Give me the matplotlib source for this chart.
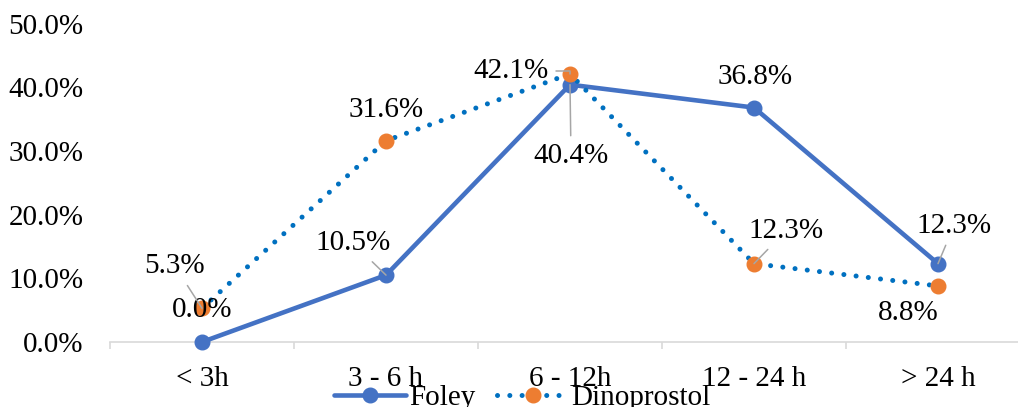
import matplotlib
matplotlib.use("Agg")
import matplotlib.pyplot as plt
from matplotlib.ticker import FixedLocator, FuncFormatter

plt.rcParams["font.family"] = ["Liberation Serif", "DejaVu Serif"]

categories = ["< 3h", "3 - 6 h", "6 - 12h", "12 - 24 h", "> 24 h"]
foley = [0.0, 10.5, 40.4, 36.8, 12.3]
dinoprostol = [5.3, 31.6, 42.1, 12.3, 8.8]
yticks = [0, 10, 20, 30, 40, 50]

# label offsets (pixels from the point to the label's centre/baseline) and leader flags
foley_offsets = [(0, 25), (-33, 25), (1, -78), (1, 24), (16, 31)]
foley_leaders = [False, True, True, False, True]
dino_offsets = [(-27, 35), (0, 24), (-59, -4), (32, 26), (-30, -34)]
dino_leaders = [True, False, True, True, False]

FOLEY_C = "#4472C4"
DINO_LINE_C = "#0070C0"
DINO_MARK_C = "#ED7D31"
LEADER_C = "#A6A6A6"
AXIS_C = "#D9D9D9"
FS = 21

W, H = 1018, 407
fig = plt.figure(figsize=(W / 100, H / 100), dpi=100)
ax = fig.add_axes([110 / W, (H - 342) / H, 920 / W, (342 - 23.5) / H])

x = list(range(len(categories)))
ax.plot(x, foley, color=FOLEY_C, lw=3.3, marker="o", ms=10.5,
        mfc=FOLEY_C, mec=FOLEY_C, label="Foley", zorder=3,
        solid_capstyle="round", clip_on=False)
ax.plot(x, dinoprostol, color=DINO_LINE_C, lw=3.6, linestyle=(0, (0.01, 2.45)),
        dash_capstyle="round", marker="o", ms=10.5, mfc=DINO_MARK_C,
        mec=DINO_MARK_C, label="Dinoprostol", zorder=4, clip_on=False)


def add_labels(values, offsets, leaders):
    for xi, v, (dx, dy), lead in zip(x, values, offsets, leaders):
        kw = {}
        if lead:
            kw["arrowprops"] = dict(arrowstyle="-", color=LEADER_C, lw=1.1,
                                    shrinkA=3, shrinkB=0)
        ax.annotate(f"{v:.1f}%", xy=(xi, v), xytext=(dx, dy),
                    textcoords="offset pixels", ha="center",
                    va="baseline", fontsize=FS, color="#000000",
                    zorder=6, annotation_clip=False, **kw)


add_labels(foley, foley_offsets, foley_leaders)
add_labels(dinoprostol, dino_offsets, dino_leaders)

# the 42.1% leader bends at a right angle
for child in ax.texts:
    if child.get_text() == "42.1%" and child.arrow_patch is not None:
        child.arrow_patch.set_connectionstyle("angle,angleA=0,angleB=90,rad=0")

ax.set_xlim(-0.5, 4.5)
ax.set_ylim(0, 50)
ax.set_xticks(x)
ax.set_xticklabels(categories, fontsize=FS)
ax.xaxis.set_minor_locator(FixedLocator([i - 0.5 for i in range(len(categories) + 1)]))
ax.tick_params(axis="x", which="major", length=0, pad=17)
ax.tick_params(axis="x", which="minor", length=5, width=1.2, color=AXIS_C)
ax.set_yticks(yticks)
ax.yaxis.set_major_formatter(FuncFormatter(lambda v, p: f"{v:.1f}%"))
ax.tick_params(axis="y", length=0, pad=19, labelsize=FS)

for side in ("top", "right", "left"):
    ax.spines[side].set_visible(False)
ax.spines["bottom"].set_color(AXIS_C)
ax.spines["bottom"].set_linewidth(1.2)

fig.legend(loc="center", bbox_to_anchor=(522.5 / W, 1 - 398 / H), ncol=2,
           frameon=False, fontsize=FS, handlelength=2.45, handletextpad=0.1,
           columnspacing=0.75, borderpad=0, borderaxespad=0)

fig.savefig("out.png", dpi=100)
